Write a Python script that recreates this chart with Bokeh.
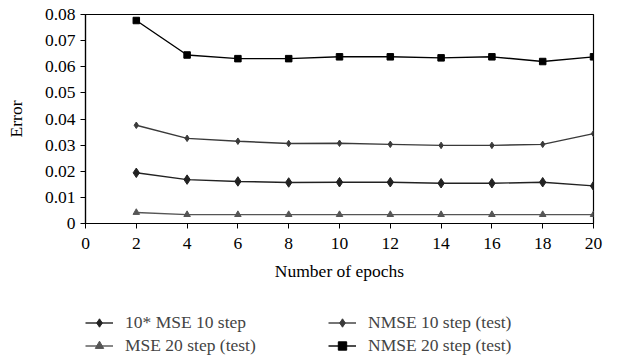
from bokeh.plotting import figure
from bokeh.layouts import column
from bokeh.models import FixedTicker, Legend, LegendItem, Label, Range1d
from bokeh.embed import file_html
from bokeh.resources import INLINE

epochs = [2, 4, 6, 8, 10, 12, 14, 16, 18, 20]
mse10_x10 = [0.0194, 0.0168, 0.0161, 0.0157, 0.0158, 0.0158, 0.0154, 0.0154, 0.0158, 0.0144]
mse20_test = [0.0042, 0.0034, 0.0034, 0.0034, 0.0034, 0.0034, 0.0034, 0.0034, 0.0034, 0.0034]
nmse10_test = [0.0376, 0.0326, 0.0315, 0.0306, 0.0307, 0.0303, 0.0299, 0.0299, 0.0303, 0.0344]
nmse20_test = [0.0777, 0.0645, 0.0631, 0.0631, 0.0638, 0.0638, 0.0634, 0.0638, 0.0620, 0.0638]
x_ticks = [0, 2, 4, 6, 8, 10, 12, 14, 16, 18, 20]
y_ticks = [0, 0.01, 0.02, 0.03, 0.04, 0.05, 0.06, 0.07, 0.08]

FONT = "Liberation Serif"
FS = "17.5px"

styles = [
    dict(label="10* MSE 10 step", color="#222222", marker="diamond", size=9.5, lsize=7),
    dict(label="MSE 20 step (test)", color="#555555", marker="triangle", size=6.5, lsize=5),
    dict(label="NMSE 10 step (test)", color="#3a3a3a", marker="diamond", size=6.5, lsize=5),
    dict(label="NMSE 20 step (test)", color="black", marker="square", size=6.5, lsize=6.5),
]
series = [mse10_x10, mse20_test, nmse10_test, nmse20_test]

p = figure(width=626, height=300, output_backend="svg", toolbar_location=None,
           x_range=Range1d(0, 20), y_range=Range1d(0, 0.08),
           min_border_left=85, min_border_right=33, min_border_top=14, min_border_bottom=77)
p.grid.visible = False
p.outline_line_color = "black"
p.outline_line_width = 1.2
p.background_fill_color = "white"
p.border_fill_color = "white"

for ax in (p.xaxis[0], p.yaxis[0]):
    ax.axis_line_color = "black"
    ax.axis_line_width = 1.2
    ax.major_tick_line_color = "black"
    ax.major_tick_out = 5
    ax.major_tick_in = 0
    ax.minor_tick_line_color = None
    ax.major_label_text_font = FONT
    ax.major_label_text_font_size = FS
    ax.major_label_text_color = "black"
    ax.axis_label_text_font = FONT
    ax.axis_label_text_font_size = FS
    ax.axis_label_text_font_style = "normal"
    ax.axis_label_text_color = "black"

p.xaxis.ticker = FixedTicker(ticks=x_ticks)
p.yaxis.ticker = FixedTicker(ticks=y_ticks)
p.yaxis.major_label_overrides = {0: "0"}
p.xaxis.axis_label = "Number of epochs"
p.yaxis.axis_label = "Error"
p.xaxis.major_label_standoff = 9
p.yaxis.major_label_standoff = 5
p.xaxis.axis_label_standoff = 9
p.yaxis.axis_label_standoff = 16

for s, ys in zip(styles, series):
    p.line(epochs, ys, line_color=s["color"], line_width=1.4)
    p.scatter(epochs, ys, marker=s["marker"], size=s["size"], color=s["color"])

p.add_layout(Label(x=498, y=-49, x_units="screen", y_units="screen",
                   text="×10³", text_font=FONT, text_font_size=FS, text_color="black",
                   text_align="left"))

# legend strip (its frame is aligned with the main plot's frame by the column layout)
q = figure(width=626, height=59, output_backend="svg", toolbar_location=None,
           x_range=Range1d(-100, -99), y_range=Range1d(0, 0.08),
           x_axis_type=None, y_axis_type=None, min_border=0)
q.grid.visible = False
q.outline_line_color = None
q.background_fill_color = "white"
q.border_fill_color = "white"

items = []
for s, ys in zip(styles, series):
    rl = q.line(epochs, ys, line_color=s["color"], line_width=1.4)
    rm = q.scatter(epochs, ys, marker=s["marker"], size=s["lsize"], color=s["color"])
    items.append(LegendItem(label=s["label"], renderers=[rl, rm]))

common = dict(border_line_color=None, background_fill_alpha=0,
              label_text_font=FONT, label_text_font_size=FS, glyph_width=28,
              glyph_height=21, label_height=21, label_standoff=12, spacing=2,
              padding=0, margin=0)
q.add_layout(Legend(items=items[:2], location=(0, 3), **common), "center")
q.add_layout(Legend(items=items[2:], location=(243, 3), **common), "center")

open("out.html", "w").write(file_html(column(p, q, spacing=0), INLINE))
